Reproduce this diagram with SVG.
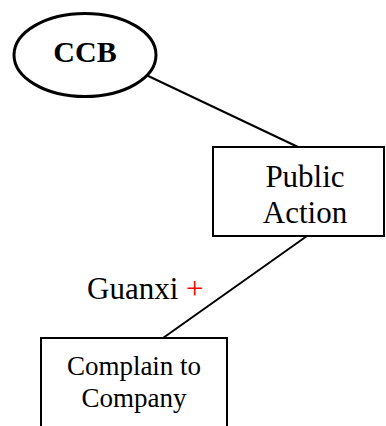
<svg xmlns="http://www.w3.org/2000/svg" width="386" height="426" viewBox="0 0 386 426">
<style>
text{font-family:"Liberation Serif","Times New Roman",serif;fill:#000}
.box{fill:#fff;stroke:#000;stroke-width:2}
.edge{stroke:#000;stroke-width:2;fill:none}
</style>
<rect width="386" height="426" fill="#fff"/>
<g id="connectors">
<line class="edge" x1="144" y1="74" x2="298" y2="147"/>
<line class="edge" x1="307" y1="236" x2="163" y2="338"/>
</g>
<g id="ccb">
<ellipse cx="85" cy="55" rx="71" ry="41.5" fill="#fff" stroke="#000" stroke-width="3"/>
<text x="85" y="62" font-size="30" font-weight="bold" text-anchor="middle">CCB</text>
</g>
<g id="public-action">
<rect class="box" x="213" y="147" width="171" height="89"/>
<text x="305" y="187" font-size="31" text-anchor="middle">Public</text>
<text x="305" y="223" font-size="31" text-anchor="middle">Action</text>
</g>
<g id="guanxi-label">
<text x="87" y="299" font-size="31">Guanxi <tspan fill="#ff0000" style="fill:#ff0000">+</tspan></text>
</g>
<g id="complain">
<rect class="box" x="41" y="338" width="186" height="100"/>
<text x="134" y="375" font-size="27" text-anchor="middle">Complain to</text>
<text x="134" y="407" font-size="27" text-anchor="middle">Company</text>
</g>
</svg>
